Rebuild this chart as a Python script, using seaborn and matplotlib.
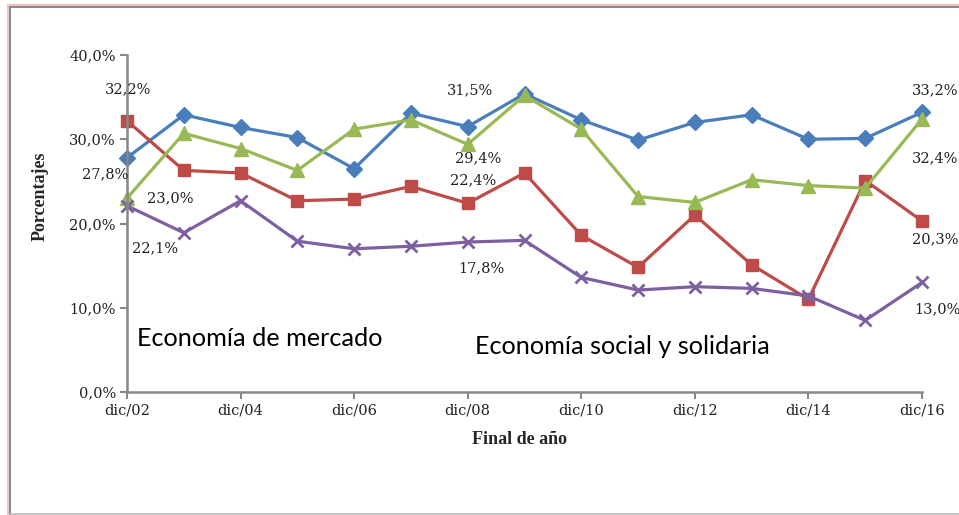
import matplotlib
matplotlib.use("Agg")
import matplotlib.pyplot as plt
from matplotlib.lines import Line2D
from matplotlib.ticker import FuncFormatter
import seaborn as sns
import pandas as pd

years = ["dic/02", "dic/03", "dic/04", "dic/05", "dic/06", "dic/07", "dic/08", "dic/09",
         "dic/10", "dic/11", "dic/12", "dic/13", "dic/14", "dic/15", "dic/16"]
blue = [27.8, 32.9, 31.4, 30.2, 26.5, 33.1, 31.5, 35.4, 32.3, 29.9, 32.0, 32.9, 30.0, 30.1, 33.2]
red = [32.2, 26.3, 26.0, 22.7, 22.9, 24.4, 22.4, 26.0, 18.6, 14.8, 21.0, 15.1, 11.0, 25.1, 20.3]
green = [23.0, 30.7, 28.9, 26.3, 31.2, 32.3, 29.4, 35.2, 31.2, 23.2, 22.5, 25.2, 24.5, 24.2, 32.4]
purple = [22.1, 18.9, 22.7, 17.9, 17.0, 17.3, 17.8, 18.0, 13.6, 12.1, 12.5, 12.3, 11.4, 8.5, 13.0]
yticks = [0, 10, 20, 30, 40]

sns.set_style("white")
W, H = 959, 515
fig = plt.figure(figsize=(W / 100, H / 100), dpi=100)
fig.patch.set_facecolor("white")
ax = fig.add_axes([127 / W, 1 - 392 / H, (922 - 127) / W, (392 - 55) / H])

x = list(range(len(years)))
series = [
    (blue, "#4A7EBB", "D", 8),
    (red, "#BE4B48", "s", 9),
    (green, "#98B954", "^", 10),
    (purple, "#7D60A0", "x", 9),
]
for vals, col, mk, ms in series:
    df = pd.DataFrame({"x": x, "y": vals})
    sns.lineplot(data=df, x="x", y="y", ax=ax, color=col, linewidth=2.3,
                 marker=mk, markersize=ms, markeredgecolor=col,
                 markeredgewidth=2 if mk == "x" else 1, clip_on=False)

ax.set_xlim(0, 14)
ax.set_ylim(0, 40)
ax.set_xticks(x[::2])
ax.set_xticklabels(years[::2])
ax.set_yticks(yticks)
ax.yaxis.set_major_formatter(FuncFormatter(lambda v, p: f"{v:.1f}%".replace(".", ",")))
serif = "DejaVu Serif"
for lab in ax.get_xticklabels() + ax.get_yticklabels():
    lab.set_fontfamily(serif)
    lab.set_fontsize(10.5)
    lab.set_color("#222222")
ax.tick_params(axis="both", direction="out", length=5, width=1.5, color="#888888", pad=3,
               bottom=True, left=True)
for s in ["top", "right"]:
    ax.spines[s].set_visible(False)
for s in ["left", "bottom"]:
    ax.spines[s].set_color("#888888")
    ax.spines[s].set_linewidth(1.8)

ax.set_xlabel("")
ax.set_ylabel("")
fig.text(520 / W, 1 - 440 / H, "Final de año", ha="center", va="center",
         fontfamily="Liberation Serif", fontweight="bold", fontsize=13)
fig.text(40 / W, 1 - 196 / H, "Porcentajes", ha="center", va="center", rotation=90,
         fontfamily="Liberation Serif", fontweight="bold", fontsize=13)

labels = [
    (red, 0, (1, 31)), (blue, 0, (-22, -17)), (green, 0, (43, 0)), (purple, 0, (28, -42)),
    (blue, 6, (2, 36)), (green, 6, (10, -14)), (red, 6, (5, 23)), (purple, 6, (14, -26)),
    (blue, 14, (13, 22)), (green, 14, (13, -39)), (red, 14, (13, -18)), (purple, 14, (15, -27)),
]
for vals, i, off in labels:
    ax.annotate(f"{vals[i]:.1f}%".replace(".", ","), xy=(x[i], vals[i]), xytext=off,
                textcoords="offset pixels", ha="center", va="center",
                fontfamily=serif, fontsize=10.5, color="#222222", annotation_clip=False)

fig.text(137 / W, 1 - 338 / H, "Economía de mercado", ha="left", va="center",
         fontfamily="Lato", fontsize=18.2, color="black")
fig.text(475 / W, 1 - 347 / H, "Economía social y solidaria", ha="left", va="center",
         fontfamily="Lato", fontsize=18.2, color="black")

# outer frame
fig.add_artist(Line2D([7.5 / W, 7.5 / W], [0, 1 - 4.5 / H], transform=fig.transFigure,
                      color="#F4C4C4", linewidth=1.5))
fig.add_artist(Line2D([7.5 / W, 1], [1 - 4.5 / H, 1 - 4.5 / H], transform=fig.transFigure,
                      color="#F4C4C4", linewidth=1.5))
fig.add_artist(Line2D([9.5 / W, 9.5 / W], [1 - 513.5 / H, 1 - 6.5 / H], transform=fig.transFigure,
                      color="#8C8C8C", linewidth=1.5))
fig.add_artist(Line2D([9.5 / W, 1], [1 - 6.5 / H, 1 - 6.5 / H], transform=fig.transFigure,
                      color="#8C8C8C", linewidth=1.5))
fig.add_artist(Line2D([9.5 / W, 1], [1 - 513.5 / H, 1 - 513.5 / H], transform=fig.transFigure,
                      color="#BBBBBB", linewidth=1.2))

fig.savefig("out.png", dpi=100)
